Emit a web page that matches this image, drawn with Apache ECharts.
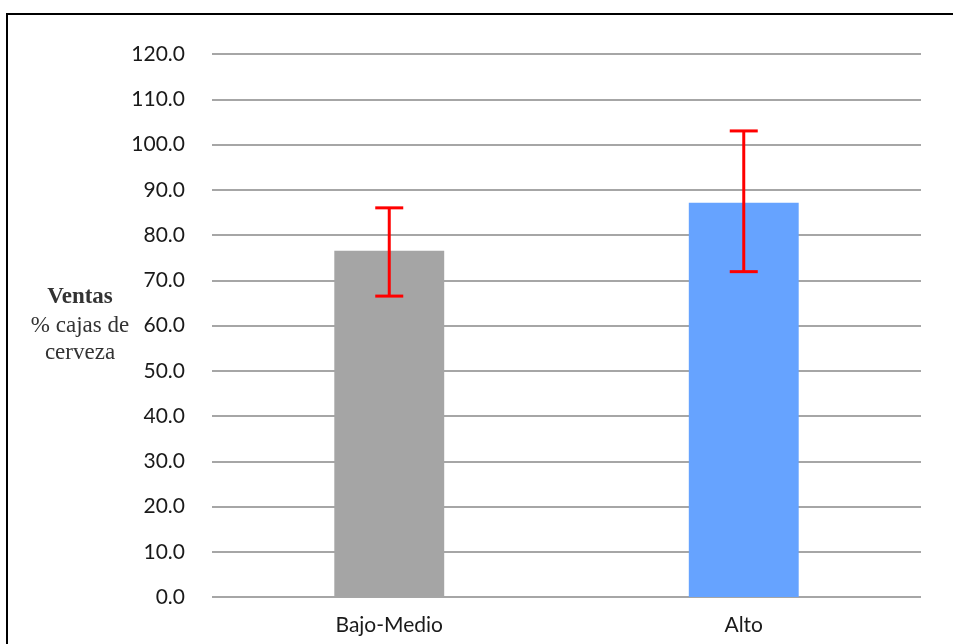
<!DOCTYPE html>
<html><head><meta charset="utf-8">
<script src="https://cdn.jsdelivr.net/npm/echarts@6/dist/echarts.min.js"></script>
<style>html,body{margin:0;padding:0;background:#fff}#c{width:953px;height:644px}</style>
</head><body><div id="c"></div>
<script>
const categories = ['Bajo-Medio', 'Alto'];
const values = [76.5, 87.1];
const errLow = [66.5, 71.9];
const errHigh = [86.0, 103.0];
const barColors = ['#a5a5a5', '#66a3ff'];
const yTicks = { min: 0, max: 120, interval: 10 };

const chart = echarts.init(document.getElementById('c'), null, { renderer: 'canvas' });
const labelFont = 'Lato, "Open Sans", sans-serif';
const serif = '"Liberation Serif", "DejaVu Serif", serif';
chart.setOption({
  animation: false,
  backgroundColor: '#fff',
  grid: { left: 212, right: 32, top: 54, bottom: 47 },
  graphic: [
    { type: 'polyline', shape: { points: [[7, 660], [7, 14], [970, 14]] }, style: { stroke: '#000', lineWidth: 2, fill: null }, silent: true },
    { type: 'text', x: 80, y: 297,
      style: { text: 'Ventas', font: 'bold 23px ' + serif, fill: '#333', align: 'center', verticalAlign: 'middle' } },
    { type: 'text', x: 80, y: 326,
      style: { text: '% cajas de', font: '23px ' + serif, fill: '#333', align: 'center', verticalAlign: 'middle' } },
    { type: 'text', x: 80, y: 353,
      style: { text: 'cerveza', font: '23px ' + serif, fill: '#333', align: 'center', verticalAlign: 'middle' } }
  ],
  xAxis: {
    type: 'category', data: categories,
    axisLine: { show: false }, axisTick: { show: false },
    axisLabel: { color: '#1a1a1a', fontSize: 21, fontFamily: labelFont, margin: 18 }
  },
  yAxis: {
    type: 'value', min: yTicks.min, max: yTicks.max, interval: yTicks.interval,
    axisLine: { show: false }, axisTick: { show: false },
    splitLine: { lineStyle: { color: '#a6a6a6', width: 2 } },
    axisLabel: { color: '#1a1a1a', fontSize: 21, fontFamily: labelFont, margin: 27,
      formatter: v => v.toFixed(1) }
  },
  series: [
    {
      type: 'bar', barWidth: '31%',
      data: values.map((v, i) => ({ value: v, itemStyle: { color: barColors[i] } })),
      z: 2
    },
    {
      type: 'custom', z: 3,
      data: categories.map((c, i) => [i, errLow[i], errHigh[i]]),
      renderItem: function (params, api) {
        const x = api.value(0);
        const lo = api.coord([x, api.value(1)]);
        const hi = api.coord([x, api.value(2)]);
        const hw = 14;
        const st = { stroke: '#ff0000', lineWidth: 3 };
        return { type: 'group', children: [
          { type: 'line', shape: { x1: lo[0], y1: lo[1], x2: hi[0], y2: hi[1] }, style: st },
          { type: 'line', shape: { x1: lo[0] - hw, y1: lo[1], x2: lo[0] + hw, y2: lo[1] }, style: st },
          { type: 'line', shape: { x1: hi[0] - hw, y1: hi[1], x2: hi[0] + hw, y2: hi[1] }, style: st }
        ]};
      }
    }
  ]
});
</script></body></html>
